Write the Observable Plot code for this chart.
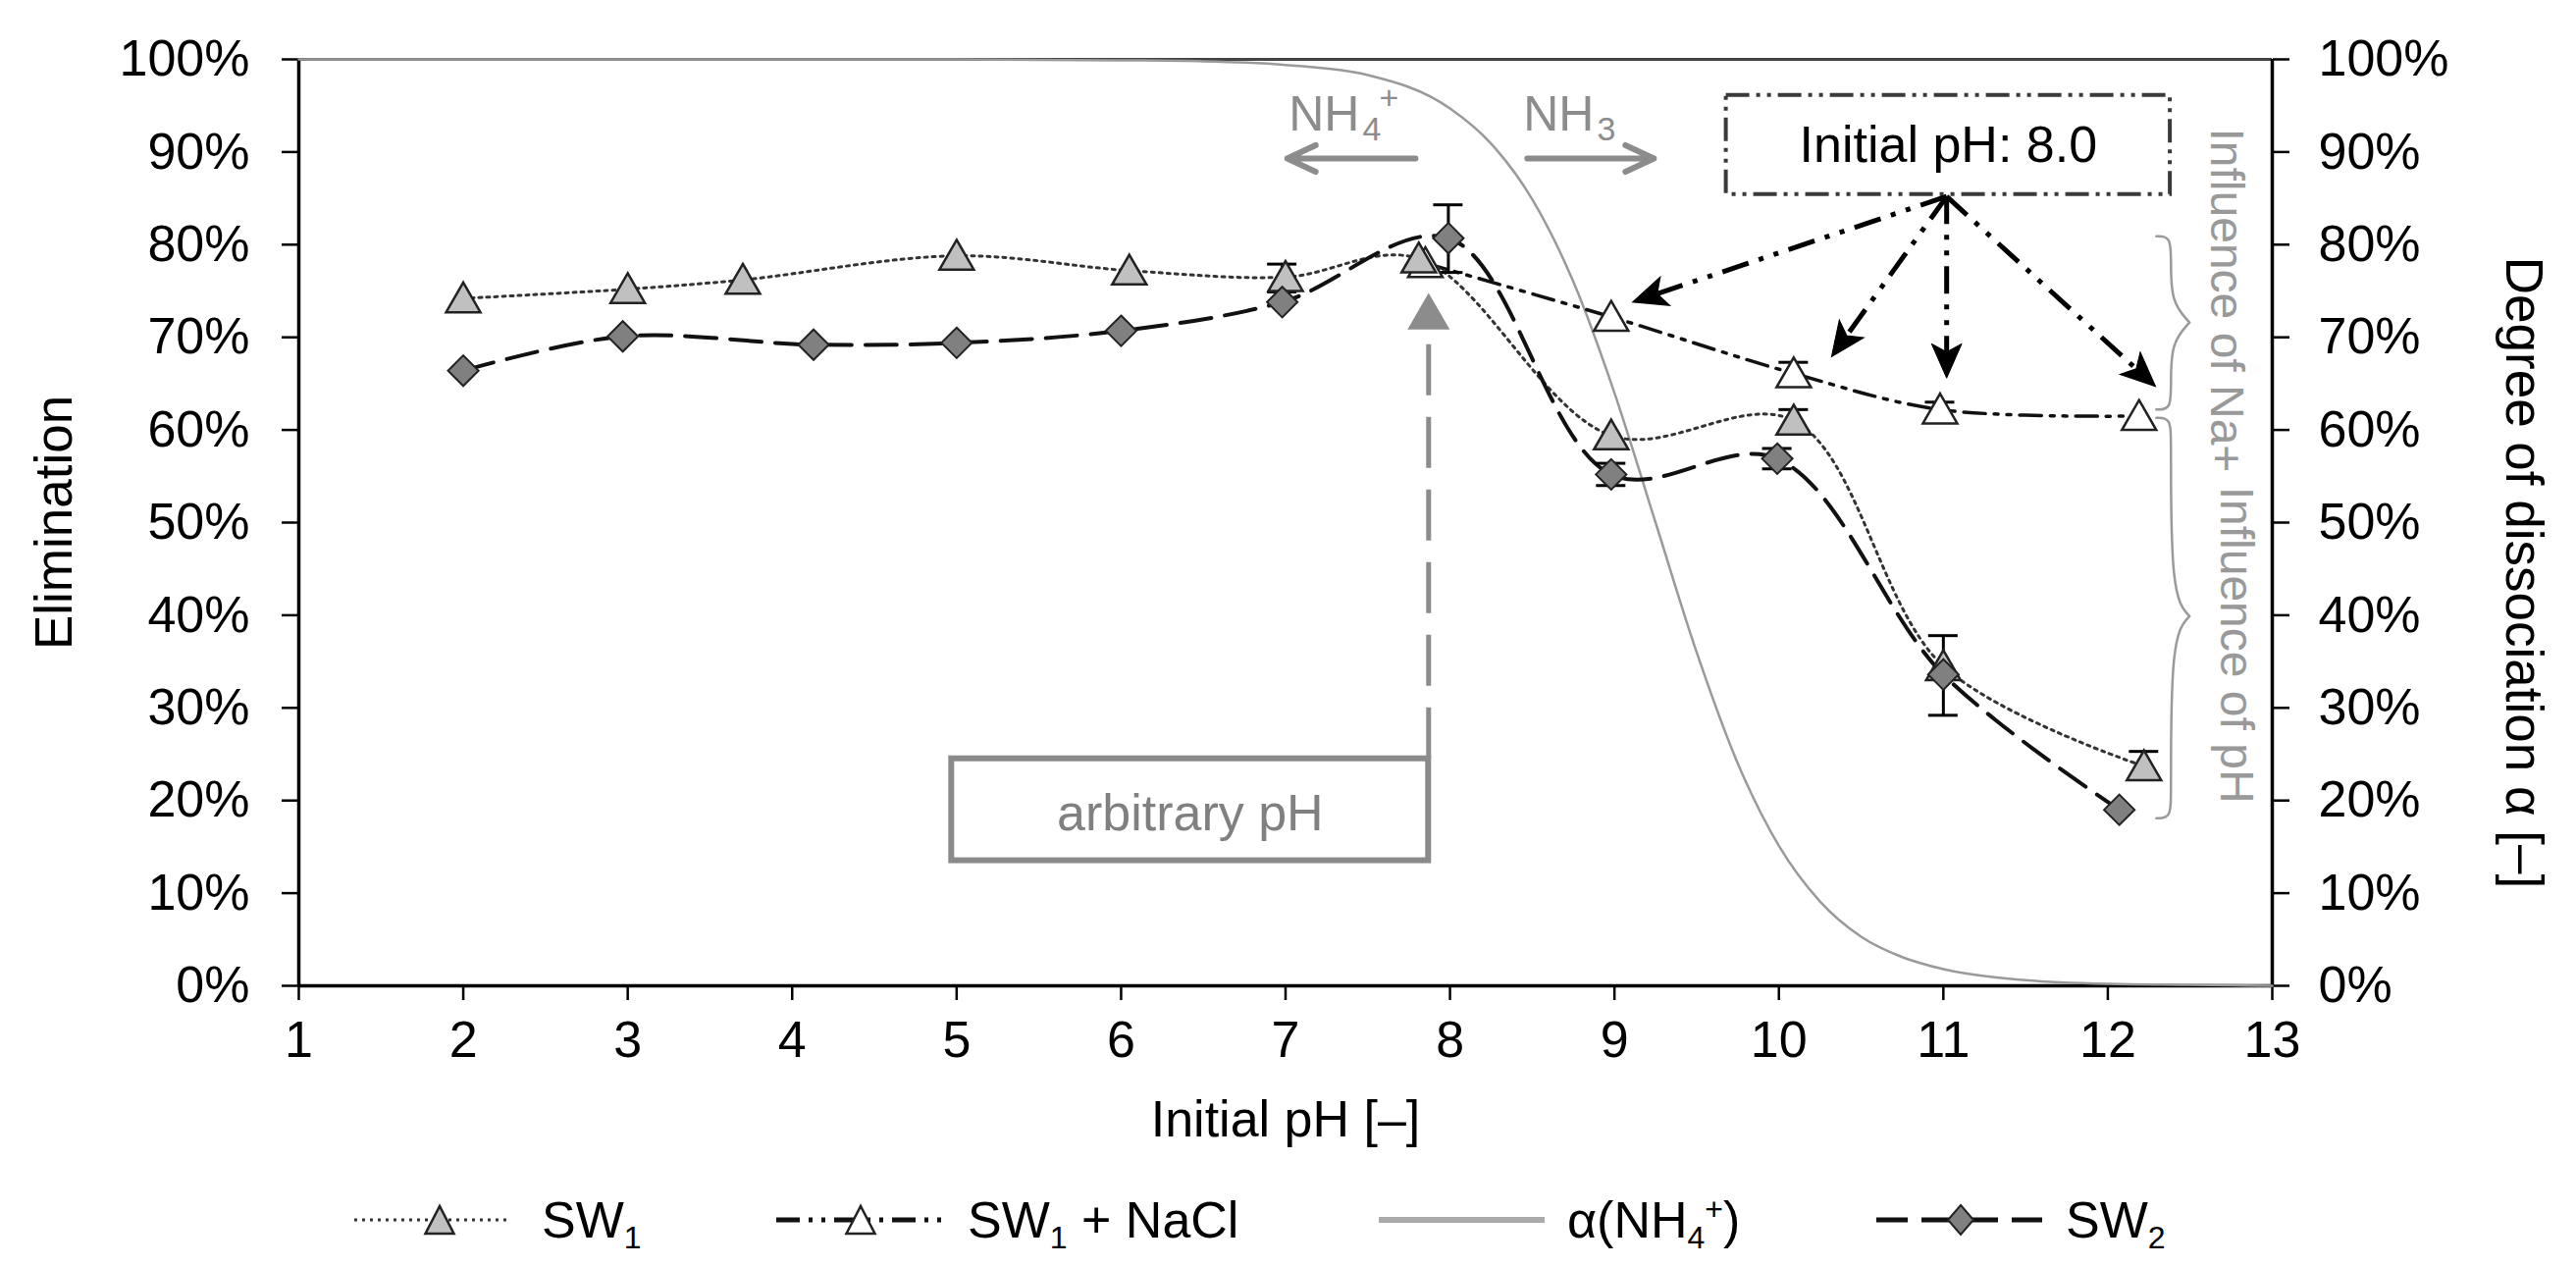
<!DOCTYPE html>
<html><head><meta charset="utf-8">
<script src="https://cdn.jsdelivr.net/npm/d3@7"></script>
<script src="https://cdn.jsdelivr.net/npm/@observablehq/plot@0.6"></script>
<style>
 body{margin:0;background:#fff;font-family:"Liberation Sans",Arial,sans-serif;}
 #wrap{position:relative;width:2625px;height:1290px;overflow:hidden;}
 #legend{position:absolute;left:0;top:1190px;width:2625px;height:100px;}
 #legend svg{position:absolute;left:0;top:0;}
 .lab{position:absolute;top:53px;transform:translateY(-50%);font-size:52px;line-height:1;white-space:nowrap;color:#000;}
 .lab sub,.lab sup{font-size:32px;line-height:0;}
</style></head>
<body><div id="wrap"><div id="chart"></div><div id="legend"></div></div>
<script>
// ---------- data ----------
const xTicks = [1,2,3,4,5,6,7,8,9,10,11,12,13];
const yTicks = [0,10,20,30,40,50,60,70,80,90,100];

const sw1PH  = [2, 3, 3.7, 5, 6.05, 7, 7.81, 8.98, 10.09, 11, 12.22];
const sw1Val = [74.2, 75.2, 76.2, 78.8, 77.2, 76.5, 78.5, 59.4, 61.0, 34.5, 23.7];

const sw2PH  = [2, 2.97, 4.13, 5, 6, 6.98, 7.99, 8.98, 9.99, 11, 12.07];
const sw2Val = [66.4, 70.1, 69.2, 69.4, 70.7, 73.8, 80.7, 55.2, 56.9, 33.6, 19.0];

const naclPH  = [7.85, 8.98, 10.09, 10.98, 12.19];
const naclVal = [78.0, 72.2, 66.1, 62.2, 61.5];

const alphaPH  = [1, 2, 3, 4, 5, 6, 6.5, 7, 7.5, 8, 8.25, 8.5, 8.75, 9, 9.25, 9.5, 9.75, 10, 10.25, 10.5, 10.75, 11, 11.5, 12, 12.5, 13];
const alphaVal = [100, 100, 100, 100, 100, 99.9, 99.8, 99.4, 98.3, 94.7, 90.9, 84.9, 76.0, 64.0, 50.0, 36.0, 24.0, 15.1, 9.1, 5.3, 3.1, 1.8, 0.6, 0.2, 0.1, 0.0];

// error bars (pH, low, high)
const errPH   = [6.98, 7.99, 8.98, 9.99, 10.09, 10.09, 10.98, 11, 12.22];
const errLow  = [74.9, 77.0, 54.0, 55.8, 59.8, 65.0, 61.2, 29.2, 22.6];
const errHigh = [77.9, 84.3, 56.4, 58.0, 62.2, 67.3, 63.0, 37.8, 25.3];

// ---------- layout ----------
const W = 2625, H = 1190, mL = 304, mR = 310, mT = 60, mB = 186;
const xDomain = [1, 13], yDomain = [0, 100];
const kx = (W - mL - mR) / (xDomain[1] - xDomain[0]);
const ky = (H - mT - mB) / (yDomain[1] - yDomain[0]);
const FONT = '"Liberation Sans", Arial, sans-serif';

const rows = (xs, ys) => xs.map((x, i) => ({x, y: ys[i]}));
const sw1 = rows(sw1PH, sw1Val);
const sw2 = rows(sw2PH, sw2Val);
const nacl = rows(naclPH, naclVal);
const alpha = rows(alphaPH, alphaVal);
const errs = errPH.map((x, i) => ({x, lo: errLow[i], hi: errHigh[i]}));
const capHalf = 15 / kx;

// ---------- annotations ----------
const arbBox = [{x1: 4.97, x2: 7.87, y1: 13.5, y2: 24.5}];
const arbTip = {x: 7.87, y: 74.8};
const arbR = 16, triY = 0.7776 * arbR;
const arbHead = [{x: arbTip.x, y: arbTip.y - 2 * triY / ky}];
const arbShaft = [{x: arbTip.x, y1: arbBox[0].y2, y2: arbTip.y - 3 * triY / ky + 0.3}];

const initBox = [{x1: 9.68, x2: 12.38, y1: 85.4, y2: 96.1}];
const arrowStart = {x: 11.02, y: 85.2};
const arrowTipX = [9.11, 10.32, 11.02, 12.29];
const arrowTipY = [73.8, 67.9, 65.6, 64.7];
const headR = 14;
const heads = [], shafts = [];
arrowTipX.forEach((tx, i) => {
  const ty = arrowTipY[i];
  const dx = (tx - arrowStart.x) * kx, dy = -(ty - arrowStart.y) * ky;
  const L = Math.hypot(dx, dy), ux = dx / L, uy = dy / L;
  heads.push({x: tx - 1.5 * headR * ux / kx, y: ty + 1.5 * headR * uy / ky, rot: Math.atan2(ux, -uy) * 180 / Math.PI});
  shafts.push({x1: arrowStart.x, y1: arrowStart.y, x2: tx - 1.7 * headR * ux / kx, y2: ty + 1.7 * headR * uy / ky});
});
const stealth = {draw(ctx, size) {
  const r = Math.sqrt(size / Math.PI);
  ctx.moveTo(0, -1.5 * r); ctx.lineTo(1.1 * r, 1.0 * r); ctx.lineTo(0, 0.4 * r); ctx.lineTo(-1.1 * r, 1.0 * r); ctx.closePath();
}};

const nhArrows = [{x1: 7.79, x2: 7.01, y: 89.3}, {x1: 8.47, x2: 9.24, y: 89.3}];
const nh4 = {x: 7.45, y: 92.3};
const nh3 = {x: 8.876, y: 92.3};

// braces
const braceX0 = 12.295, braceXm = 12.384, braceXt = 12.497;
const braces = [{top: 80.9, mid: 71.6, bot: 62.2}, {top: 61.3, mid: 39.9, bot: 18.1}];
const bracePts = [];
braces.forEach((b, k) => {
  const r = 2.6, rt = 2.2;
  const pts = [[braceX0, b.top], [braceXm, b.top], [braceXm, b.top - r], [braceXm, b.mid + rt],
               [braceXt, b.mid], [braceXt, b.mid], [braceXt, b.mid],
               [braceXm, b.mid - rt], [braceXm, b.bot + r], [braceXm, b.bot], [braceX0, b.bot]];
  pts.forEach(([x, y]) => bracePts.push({x, y, k}));
});

const labels = [
  {x: 12.72, y: 74.0, t: "Influence of Na+"},
  {x: 12.78, y: 36.8, t: "Influence of pH"}
];

// ---------- plot ----------
const plot = Plot.plot({
  width: W, height: H,
  marginLeft: mL, marginRight: mR, marginTop: mT, marginBottom: mB,
  x: {domain: xDomain},
  y: {domain: yDomain},
  style: {fontFamily: FONT, fontSize: "52px", background: "#fff", color: "#000", overflow: "visible"},
  marks: [
    Plot.axisX({ticks: xTicks, tickSize: 15, tickPadding: 21, label: null, strokeWidth: 2.5, fontSize: 52}),
    Plot.axisY({ticks: yTicks, tickFormat: d => d + "%", tickSize: 17, tickPadding: 33, label: null, strokeWidth: 2.5, fontSize: 52}),
    Plot.axisY({anchor: "right", ticks: yTicks, tickFormat: d => d + "%", tickSize: 17, tickPadding: 30, label: null, strokeWidth: 2.5, fontSize: 52}),
    Plot.text(["Elimination"], {frameAnchor: "left", textAnchor: "middle", lineAnchor: "middle", dx: -248, rotate: -90, fontSize: 53, fill: "#000"}),
    Plot.text(["Degree of dissociation α [–]"], {frameAnchor: "right", textAnchor: "middle", lineAnchor: "middle", dx: 255, dy: 51, rotate: 90, fontSize: 53, fill: "#000"}),
    Plot.text(["Initial pH [–]"], {frameAnchor: "bottom", textAnchor: "middle", lineAnchor: "middle", dy: 137, fontSize: 52, fill: "#000"}),

    // arbitrary pH annotation
    Plot.rect(arbBox, {x1: "x1", x2: "x2", y1: "y1", y2: "y2", fill: "#fff", stroke: "#8a8a8a", strokeWidth: 6}),
    Plot.text(arbBox, {x: d => (d.x1 + d.x2) / 2, y: 16.8, text: () => "arbitrary pH", lineAnchor: "bottom", fill: "#808080", fontSize: 52}),
    Plot.ruleX(arbShaft, {x: "x", y1: "y1", y2: "y2", stroke: "#8c8c8c", strokeWidth: 5, strokeDasharray: "52,22"}),
    Plot.dot(arbHead, {x: "x", y: "y", symbol: "triangle", r: arbR, fill: "#8c8c8c", stroke: "none"}),

    // frame
    Plot.ruleY([yDomain[1]], {stroke: "#444", strokeWidth: 3}),
    Plot.ruleY([yDomain[0]], {stroke: "#000", strokeWidth: 3.5}),
    Plot.ruleX(xDomain, {stroke: "#000", strokeWidth: 3.5}),

    // alpha curve
    Plot.line(alpha, {x: "x", y: "y", curve: "monotone-x", stroke: "#9a9a9a", strokeWidth: 2.5}),

    // series lines
    Plot.line(nacl, {x: "x", y: "y", curve: "catmull-rom", stroke: "#111", strokeWidth: 3.5, strokeDasharray: "22,9,4,9,4,9"}),
    Plot.line(sw1, {x: "x", y: "y", curve: "catmull-rom", stroke: "#333", strokeWidth: 3, strokeDasharray: "3,5"}),
    Plot.line(sw2, {x: "x", y: "y", curve: "catmull-rom", stroke: "#111", strokeWidth: 4, strokeDasharray: "32,14"}),

    // error bars
    Plot.ruleX(errs, {x: "x", y1: "lo", y2: "hi", stroke: "#000", strokeWidth: 3}),
    Plot.ruleY(errs, {y: "lo", x1: d => d.x - capHalf, x2: d => d.x + capHalf, stroke: "#000", strokeWidth: 3}),
    Plot.ruleY(errs, {y: "hi", x1: d => d.x - capHalf, x2: d => d.x + capHalf, stroke: "#000", strokeWidth: 3}),

    // markers
    Plot.dot(nacl, {x: "x", y: "y", symbol: "triangle", r: 13, dy: 4, fill: "#fff", stroke: "#222", strokeWidth: 2.5}),
    Plot.dot(sw1, {x: "x", y: "y", symbol: "triangle", r: 13, dy: 4, fill: "#c0c0c0", stroke: "#222", strokeWidth: 2.5}),
    Plot.dot(sw2, {x: "x", y: "y", symbol: "diamond2", r: 14, fill: "#808080", stroke: "#222", strokeWidth: 2}),

    // Initial pH annotation
    Plot.rect(initBox, {x1: "x1", x2: "x2", y1: "y1", y2: "y2", fill: "#fff", stroke: "#3a3a3a", strokeWidth: 4, strokeDasharray: "24,7,4,7,4,7"}),
    Plot.text(initBox, {x: d => (d.x1 + d.x2) / 2, y: 88.9, text: () => "Initial pH: 8.0", lineAnchor: "bottom", fill: "#000", fontSize: 52}),
    Plot.link(shafts, {x1: "x1", y1: "y1", x2: "x2", y2: "y2", stroke: "#000", strokeWidth: 5, strokeDasharray: "28,11,5,11,5,11"}),
    Plot.dot(heads, {x: "x", y: "y", rotate: "rot", symbol: stealth, r: headR, fill: "#000", stroke: "#000", strokeWidth: 1}),

    // NH4+ / NH3
    Plot.arrow(nhArrows, {x1: "x1", x2: "x2", y1: "y", y2: "y", stroke: "#8c8c8c", strokeWidth: 6, headAngle: 50}),
    Plot.text([nh4], {x: "x", y: "y", text: () => "NH", textAnchor: "end", lineAnchor: "bottom", fill: "#8c8c8c", fontSize: 50}),
    Plot.text([nh4], {x: "x", y: "y", text: () => "4", textAnchor: "start", lineAnchor: "bottom", dx: 3, dy: 10, fill: "#8c8c8c", fontSize: 34}),
    Plot.text([nh4], {x: "x", y: "y", text: () => "+", textAnchor: "start", lineAnchor: "bottom", dx: 20, dy: -22, fill: "#8c8c8c", fontSize: 34}),
    Plot.text([nh3], {x: "x", y: "y", text: () => "NH", textAnchor: "end", lineAnchor: "bottom", fill: "#8c8c8c", fontSize: 50}),
    Plot.text([nh3], {x: "x", y: "y", text: () => "3", textAnchor: "start", lineAnchor: "bottom", dx: 3, dy: 10, fill: "#8c8c8c", fontSize: 34}),

    // braces and labels
    Plot.line(bracePts, {x: "x", y: "y", z: "k", curve: "basis", stroke: "#9a9a9a", strokeWidth: 2.5}),
    Plot.text(labels, {x: "x", y: "y", text: "t", rotate: 90, fill: "#999", fontSize: 48})
  ]
});
document.getElementById("chart").appendChild(plot);

// ---------- legend ----------
const legend = document.getElementById("legend");
const cy = 53;
const tri = (cx, fill) => `<polygon points="${cx},${cy-14} ${cx-14.5},${cy+14} ${cx+14.5},${cy+14}" fill="${fill}" stroke="#222" stroke-width="2.5"/>`;
legend.innerHTML = `
<svg width="2625" height="100">
  <line x1="361" x2="520" y1="${cy}" y2="${cy}" stroke="#333" stroke-width="3" stroke-dasharray="3,5"/>
  ${tri(448, "#c0c0c0")}
  <line x1="791" x2="963" y1="${cy}" y2="${cy}" stroke="#111" stroke-width="5" stroke-dasharray="24,9,4,9,4,9"/>
  ${tri(877, "#fff")}
  <line x1="1405" x2="1574" y1="${cy}" y2="${cy}" stroke="#aaa" stroke-width="6"/>
  <line x1="1912" x2="2081" y1="${cy}" y2="${cy}" stroke="#111" stroke-width="5" stroke-dasharray="32,14"/>
  <polygon points="1998,${cy-15} 2011,${cy} 1998,${cy+15} 1985,${cy}" fill="#808080" stroke="#222" stroke-width="2"/>
</svg>
<span class="lab" style="left:552px">SW<sub>1</sub></span>
<span class="lab" style="left:986px">SW<sub>1</sub> + NaCl</span>
<span class="lab" style="left:1597px">α(NH<sub>4</sub><sup>+</sup>)</span>
<span class="lab" style="left:2105px">SW<sub>2</sub></span>`;
</script>
</body></html>
